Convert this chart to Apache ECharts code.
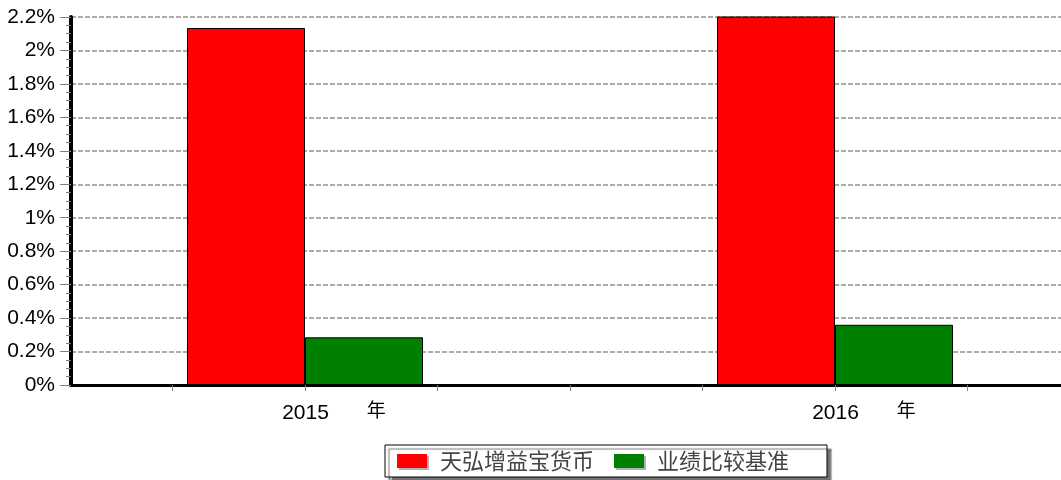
<!DOCTYPE html>
<html>
<head>
<meta charset="utf-8">
<script src="https://cdn.jsdelivr.net/npm/echarts@6/dist/echarts.min.js"></script>
<style>
    html, body { margin: 0; padding: 0; background: #fff; }
    #main { width: 1061px; height: 480px; }
</style>
</head>
<body>
<div id="main"></div>
<script>
// 年份 / 系列数据
var years = [2015, 2016];
var fundValues = [2.134, 2.26];   // 天弘增益宝货币, 2016 超出坐标上限
var benchValues = [0.285, 0.36];  // 业绩比较基准
var seriesNames = ['天弘增益宝货币', '业绩比较基准'];
var xTicks = [2014.75, 2015, 2015.25, 2015.5, 2015.75, 2016, 2016.25];
var yTicks = [0, 0.2, 0.4, 0.6, 0.8, 1, 1.2, 1.4, 1.6, 1.8, 2, 2.2];

(function () {
    var pair = function (vals) {
        var out = [];
        for (var i = 0; i < years.length; i++) out.push([years[i], vals[i]]);
        return out;
    };
    var myChart = echarts.init(document.getElementById('main'));
    var option = {
        animation: false,
        grid: { left: 71, right: 0, top: 17, bottom: 95, containLabel: false },
        legend: {
            left: 385, top: 445,
            data: seriesNames,
            backgroundColor: '#fff',
            borderColor: '#000', borderWidth: 1,
            shadowColor: 'rgba(0,0,0,0.55)', shadowBlur: 1, shadowOffsetX: 4, shadowOffsetY: 4,
            padding: [5, 33, 5, 12],
            itemGap: 14, itemWidth: 30, itemHeight: 14,
            icon: 'rect',
            itemStyle: { borderWidth: 0, shadowColor: 'rgba(0,0,0,0.3)', shadowOffsetX: 2, shadowOffsetY: 2 },
            formatter: function (name) {
                return '{t' + seriesNames.indexOf(name) + '|' + name + '}';
            },
            textStyle: {
                rich: {
                    t0: { fontFamily: 'Noto Sans CJK SC', fontSize: 22, lineHeight: 22, color: '#444', width: 160, padding: [0, 0, 0, 8] },
                    t1: { fontFamily: 'Noto Sans CJK SC', fontSize: 22, lineHeight: 22, color: '#444', width: 137, padding: [0, 0, 0, 8] }
                }
            }
        },
        xAxis: {
            type: 'value',
            min: 2014.5585, max: 2016.4264,
            splitLine: { show: false },
            axisLine: { show: true, onZero: false, lineStyle: { color: '#000', width: 3 } },
            axisTick: { show: true, customValues: xTicks, length: 6, lineStyle: { color: '#808080', width: 1 } },
            axisLabel: {
                customValues: years,
                margin: 15,
                formatter: function (v) {
                    return '{p|}{a|' + v + '}{g|}{b|年}';
                },
                rich: {
                    p: { width: 58 },
                    a: { fontFamily: 'Liberation Sans', fontSize: 21, color: '#000' },
                    g: { width: 38 },
                    b: { fontFamily: 'Noto Sans CJK SC', fontSize: 19, color: '#000', padding: [0, 0, 7, 0] }
                }
            }
        },
        yAxis: {
            type: 'value',
            min: 0, max: 2.2, interval: 0.2,
            axisLine: { show: true, lineStyle: { color: '#000', width: 4 } },
            axisTick: { show: true, length: 11, lineStyle: { color: '#808080', width: 1 } },
            minorTick: { show: true, splitNumber: 4, length: 5, lineStyle: { color: '#808080', width: 1 } },
            splitLine: { show: true, lineStyle: { color: '#909090', width: 1.5, type: [5, 2] } },
            axisLabel: {
                margin: 16,
                fontFamily: 'Liberation Sans', fontSize: 21, color: '#000',
                formatter: function (v) { return parseFloat(v.toFixed(1)) + '%'; }
            }
        },
        series: [{
            name: seriesNames[0],
            type: 'bar',
            barWidth: 118, barGap: '0%',
            itemStyle: { color: '#ff0000', borderColor: '#000', borderWidth: 1 },
            data: pair(fundValues)
        }, {
            name: seriesNames[1],
            type: 'bar',
            barWidth: 118, barGap: '0%',
            itemStyle: { color: '#008000', borderColor: '#000', borderWidth: 1 },
            data: pair(benchValues)
        }]
    };
    myChart.setOption(option);
})();
</script>
</body>
</html>
